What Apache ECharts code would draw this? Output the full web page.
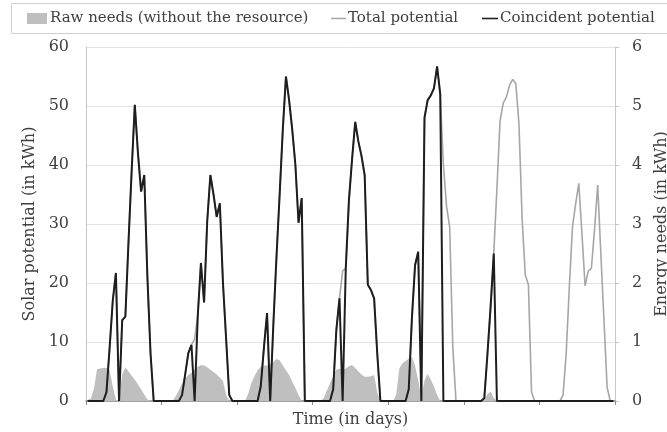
<!DOCTYPE html>
<html>
<head>
<meta charset="utf-8">
<script src="https://cdn.jsdelivr.net/npm/echarts@6/dist/echarts.min.js"></script>
<style>
html,body{margin:0;padding:0;background:#fff;}
#chart{width:667px;height:432px;}
</style>
</head>
<body>
<div id="chart"></div>
<script>
// Hourly values over 7 days (168 hours)
const hours = Array.from({length: 168}, (_, i) => i);

// Raw needs (right axis, kWh)
const rawNeeds = [
  // day 1
  0.02,0.04,0.2,0.54,0.55,0.56,0.56,0.52,0.25,0.02,0,0.45,0.57,0.5,0.43,0.36,0.28,0.2,0.11,0.03,0,0,0,0,
  // day 2
  0,0,0,0,0.08,0.18,0.3,0.38,0.44,0.48,0.53,0.58,0.61,0.6,0.57,0.53,0.49,0.45,0.4,0.34,0.1,0,0,0,
  // day 3
  0,0,0,0.12,0.3,0.42,0.52,0.58,0.6,0.6,0.62,0.66,0.71,0.69,0.6,0.52,0.44,0.33,0.22,0.1,0,0,0,0,
  // day 4
  0,0,0,0.05,0.18,0.3,0.42,0.53,0.55,0.52,0.55,0.59,0.61,0.56,0.5,0.45,0.41,0.41,0.42,0.44,0.15,0,0,0,
  // day 5
  0,0,0.1,0.55,0.64,0.68,0.72,0.74,0.6,0.35,0.05,0.35,0.46,0.36,0.25,0.1,0,0,0,0,0,0,0,0,
  // day 6
  0,0,0,0,0,0,0.03,0.12,0.16,0.05,0,0,0,0,0,0,0,0,0,0,0,0,0,0,
  // day 7
  0,0,0,0,0,0,0,0,0,0,0,0,0,0,0,0,0,0,0,0,0,0,0,0
];

// Total solar potential (left axis, kWh)
const totalPotential = [
  0,0,0,0,0,0,1.5,9,17,21.7,0,13.7,14.3,27,39,50.2,42,35.5,38.3,21,8,0,0,0,
  0,0,0,0,0,0,1,4.5,8.1,9.5,10.5,14.5,23.4,16.7,30.5,38.3,35,31.2,33.5,20,10.5,1,0,0,
  0,0,0,0,0,0,0,2.5,9,14.9,0,13,24.5,35,46,55,51,46,40,30.2,34.4,0,0,0,
  0,0,0,0,0,0,2,12,17.4,22,22.5,34,41,47.3,44,41.5,38.3,19.7,18.8,17.4,8,0,0,0,
  0,0,0,0,0,0,2,14,23,25.3,0,48,51,51.8,53,56.7,52,40,33,29.5,9,0,0,0,
  0,0,0,0,0,0,0.5,8,16,25,36,47.5,50.5,51.5,53.5,54.5,53.8,47,31,21.4,19.7,1.5,0,0,
  0,0,0,0,0,0,0,1,8,19.4,29.5,33.4,36.9,28.4,19.5,22,22.5,29,36.6,25,13.7,2.3,0,0
];

// Coincident potential (left axis, kWh)
const coincidentPotential = [
  0,0,0,0,0,0,1.5,9,17,21.7,0,13.7,14.3,27,39,50.2,42,35.5,38.3,21,8,0,0,0,
  0,0,0,0,0,0,1,4.5,8.1,9.5,0,14.5,23.4,16.7,30.5,38.3,35,31.2,33.5,20,10.5,1,0,0,
  0,0,0,0,0,0,0,2.5,9,14.9,0,13,24.5,35,46,55,51,46,40,30.2,34.4,0,0,0,
  0,0,0,0,0,0,2,12,17.4,0,22.5,34,41,47.3,44,41.5,38.3,19.7,18.8,17.4,8,0,0,0,
  0,0,0,0,0,0,2,14,23,25.3,0,48,51,51.8,53,56.7,52,0,0,0,0,0,0,0,
  0,0,0,0,0,0,0.5,8,16,25,0,0,0,0,0,0,0,0,0,0,0,0,0,0,
  0,0,0,0,0,0,0,0,0,0,0,0,0,0,0,0,0,0,0,0,0,0,0,0
];

const leftTicks = {min: 0, max: 60, interval: 10};
const rightTicks = {min: 0, max: 6, interval: 1};

const FONT = 'DejaVu Serif';
const TXT = '#3f3f3f';

const chart = echarts.init(document.getElementById('chart'), null, {renderer: 'canvas'});
const lineIcon = 'path://M0,0 L10,0 L10,1 L0,1 Z';

chart.setOption({
  animation: false,
  backgroundColor: '#ffffff',
  textStyle: {fontFamily: FONT},
  graphic: [{
    type: 'rect',
    shape: {x: 11.5, y: 3.5, width: 660, height: 30},
    style: {fill: 'none', stroke: '#d0d0d0', lineWidth: 1},
    silent: true
  }],
  legend: [
    {
      left: 27, top: 11, padding: 0, itemWidth: 20, itemHeight: 11,
      icon: 'rect',
      textStyle: {fontFamily: FONT, fontSize: 15, color: TXT, padding: [0,0,0,-2]},
      data: ['Raw needs (without the resource)']
    },
    {
      left: 331, top: 11, padding: 0, itemWidth: 15, itemHeight: 2,
      icon: lineIcon,
      textStyle: {fontFamily: FONT, fontSize: 15, color: TXT, padding: [0,0,0,-3]},
      data: ['Total potential']
    },
    {
      left: 482, top: 11, padding: 0, itemWidth: 16, itemHeight: 2,
      icon: lineIcon,
      textStyle: {fontFamily: FONT, fontSize: 15, color: TXT, padding: [0,0,0,-3]},
      data: ['Coincident potential']
    }
  ],
  grid: {left: 86, right: 52, top: 47, bottom: 31, containLabel: false, outerBoundsMode: 'none'},
  xAxis: {
    type: 'category',
    data: hours,
    boundaryGap: true,
    axisLine: {show: true, lineStyle: {color: '#8c8c8c', width: 1.5}},
    axisTick: {show: true, interval: (i) => i % 24 === 0, length: 4, lineStyle: {color: '#8c8c8c'}},
    axisLabel: {show: false},
    splitLine: {show: false},
    name: 'Time (in days)',
    nameLocation: 'middle',
    nameGap: 11,
    nameTextStyle: {fontFamily: FONT, fontSize: 16, color: TXT, verticalAlign: 'top'}
  },
  yAxis: [
    {
      type: 'value',
      min: leftTicks.min, max: leftTicks.max, interval: leftTicks.interval,
      axisLine: {show: true, lineStyle: {color: '#c8c8c8'}},
      axisTick: {show: false},
      splitLine: {show: true, lineStyle: {color: '#e2e2e2'}},
      axisLabel: {fontFamily: FONT, fontSize: 16, color: TXT, margin: 17},
      name: 'Solar potential (in kWh)',
      nameLocation: 'middle',
      nameRotate: 90,
      nameGap: 47,
      nameTextStyle: {fontFamily: FONT, fontSize: 16, color: TXT}
    },
    {
      type: 'value',
      position: 'right',
      min: rightTicks.min, max: rightTicks.max, interval: rightTicks.interval,
      axisLine: {show: true, lineStyle: {color: '#c8c8c8'}},
      axisTick: {show: true, length: 4, lineStyle: {color: '#c8c8c8'}},
      splitLine: {show: false},
      axisLabel: {fontFamily: FONT, fontSize: 16, color: TXT, margin: 17},
      name: 'Energy needs (in kWh)',
      nameLocation: 'middle',
      nameRotate: 90,
      nameGap: 39,
      nameTextStyle: {fontFamily: FONT, fontSize: 16, color: TXT}
    }
  ],
  series: [
    {
      name: 'Raw needs (without the resource)',
      type: 'line',
      yAxisIndex: 1,
      data: rawNeeds,
      symbol: 'none',
      itemStyle: {color: '#bfbfbf'},
      lineStyle: {width: 0, color: '#bfbfbf'},
      areaStyle: {color: '#bfbfbf', opacity: 1},
      z: 1
    },
    {
      name: 'Total potential',
      type: 'line',
      data: totalPotential,
      symbol: 'none',
      itemStyle: {color: '#a6a6a6'},
      lineStyle: {width: 1.6, color: '#a6a6a6'},
      z: 2
    },
    {
      name: 'Coincident potential',
      type: 'line',
      data: coincidentPotential,
      symbol: 'none',
      itemStyle: {color: '#1e1e1e'},
      lineStyle: {width: 2, color: '#1e1e1e'},
      z: 3
    }
  ]
});
</script>
</body>
</html>
